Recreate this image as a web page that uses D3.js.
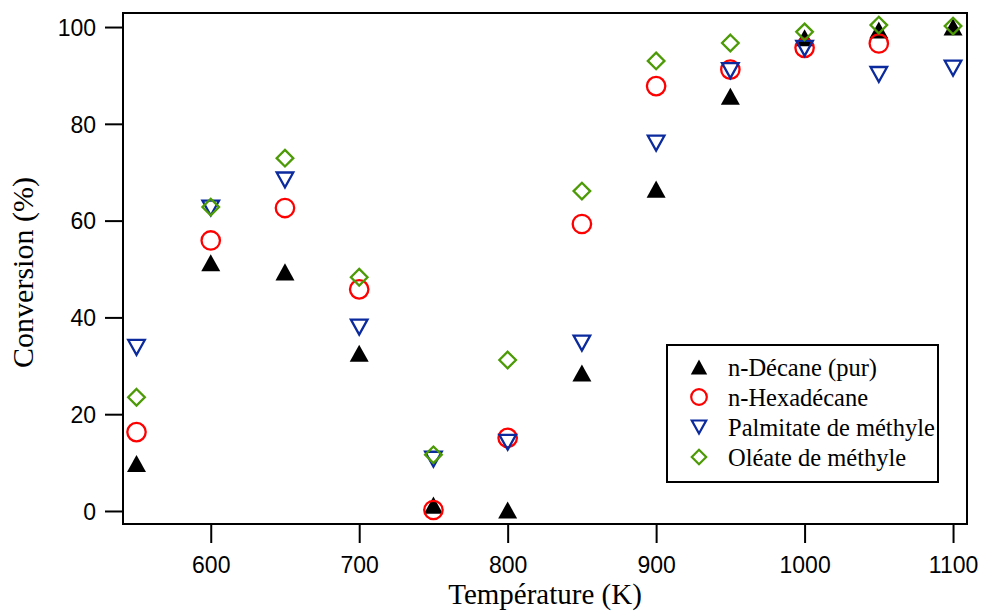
<!DOCTYPE html>
<html>
<head>
<meta charset="utf-8">
<script src="https://cdn.jsdelivr.net/npm/d3@7"></script>
<style>
  body { margin: 0; background: #fff; }
  svg { display: block; }
</style>
</head>
<body>
<svg id="chart" width="983" height="612"></svg>
<script>
// ---- data ----
const temperatures = [550, 600, 650, 700, 750, 800, 850, 900, 950, 1000, 1050, 1100];
const decane      = [9.8, 51.3, 49.4, 32.6, 1.2, 0.2, 28.5, 66.5, 85.7, 97.8, 99.4, 100.0];
const hexadecane  = [16.3, 55.9, 62.6, 45.8, 0.2, 15.1, 59.3, 87.8, 91.2, 95.7, 96.6, null];
const palmitate   = [33.8, 62.6, 68.4, 38.0, 10.7, 14.2, 34.7, 76.0, 91.0, 95.6, 90.2, 91.5];
const oleate      = [23.5, 62.8, 72.9, 48.3, 11.6, 31.2, 66.1, 93.0, 96.7, 99.0, 100.4, 100.2];
const seriesNames = ["n-Décane (pur)", "n-Hexadécane", "Palmitate de méthyle", "Oléate de méthyle"];
const xTicks = [600, 700, 800, 900, 1000, 1100];
const yTicks = [0, 20, 40, 60, 80, 100];

const series = [
  { name: seriesNames[0], values: decane,     shape: "triUp",   color: "#000000", fill: true },
  { name: seriesNames[1], values: hexadecane, shape: "circle",  color: "#ff0000", fill: false },
  { name: seriesNames[2], values: palmitate,  shape: "triDown", color: "#0a2a9e", fill: false },
  { name: seriesNames[3], values: oleate,     shape: "diamond", color: "#4c9a06", fill: false }
];

// ---- layout ----
const margin = { left: 123, top: 13, right: 983 - 967, bottom: 612 - 524 };
const W = 983 - margin.left - margin.right;
const H = 612 - margin.top - margin.bottom;

const svg = d3.select("#chart");
const g = svg.append("g").attr("transform", `translate(${margin.left},${margin.top})`);

const x = d3.scaleLinear().domain([540.9, 1109.4]).range([0, W]);
const y = d3.scaleLinear().domain([-2.69, 102.9]).range([H, 0]);

// marker paths centered at bbox center, s = half size
function shapePath(shape, s) {
  switch (shape) {
    case "triUp":   return `M0,${-s*0.9}L${s},${s*0.9}L${-s},${s*0.9}Z`;
    case "triDown": return `M${-s},${-s*0.9}L${s},${-s*0.9}L0,${s*0.9}Z`;
    case "diamond": return `M0,${-s}L${s},0L0,${s}L${-s},0Z`;
    case "circle":  { const p = d3.path(); p.arc(0, 0, s, 0, 2*Math.PI); p.closePath(); return p.toString(); }
  }
}
const mainSize = { triUp: 9.5, triDown: 8.3, diamond: 8.3, circle: 9.2 };
const legSize  = { triUp: 8.2, triDown: 7.2, diamond: 7.2, circle: 7.8 };

// ---- frame ----
g.append("rect").attr("x", 0).attr("y", 0).attr("width", W).attr("height", H)
  .attr("fill", "none").attr("stroke", "#000").attr("stroke-width", 2);

// ---- axes ----
const xAxis = g.append("g").attr("transform", `translate(0,${H})`)
  .call(d3.axisBottom(x).tickValues(xTicks).tickSize(19).tickPadding(14).tickFormat(d3.format("d")));
const yAxis = g.append("g")
  .call(d3.axisLeft(y).tickValues(yTicks).tickSize(18).tickPadding(9).tickFormat(d3.format("d")));
[xAxis, yAxis].forEach(a => {
  a.select(".domain").remove();
  a.selectAll(".tick line").attr("stroke", "#000").attr("stroke-width", 2);
  a.selectAll(".tick text").attr("fill", "#000")
    .style("font-family", "'Liberation Sans', Arial, Helvetica, sans-serif")
    .style("font-size", "23px");
});
yAxis.selectAll(".tick text").attr("dy", "0.36em");

// ---- axis titles ----
svg.append("text")
  .attr("x", margin.left + W / 2).attr("y", 604)
  .attr("text-anchor", "middle")
  .style("font-family", "'Liberation Serif', 'Times New Roman', serif")
  .style("font-size", "29px")
  .text("Température (K)");
svg.append("text")
  .attr("transform", `translate(33,${margin.top + H / 2 + 4}) rotate(-90)`)
  .attr("text-anchor", "middle")
  .style("font-family", "'Liberation Serif', 'Times New Roman', serif")
  .style("font-size", "30px")
  .text("Conversion (%)");

// ---- points ----
series.forEach(s => {
  g.append("g").selectAll("path")
    .data(temperatures.map((t, i) => ({ t, v: s.values[i] })).filter(d => d.v != null))
    .join("path")
    .attr("d", shapePath(s.shape, mainSize[s.shape]))
    .attr("transform", d => `translate(${x(d.t)},${y(d.v)})`)
    .attr("fill", s.fill ? s.color : "none")
    .attr("stroke", s.color)
    .attr("stroke-width", s.fill ? 0 : 2.3);
});

// ---- legend ----
const leg = svg.append("g").attr("transform", "translate(667,345)");
leg.append("rect").attr("x", 0).attr("y", 0).attr("width", 271).attr("height", 137)
  .attr("fill", "#fff").attr("stroke", "#000").attr("stroke-width", 2);
series.forEach((s, i) => {
  const cy = 22 + i * 30;
  leg.append("path")
    .attr("d", shapePath(s.shape, legSize[s.shape]))
    .attr("transform", `translate(32,${cy})`)
    .attr("fill", s.fill ? s.color : "none")
    .attr("stroke", s.color)
    .attr("stroke-width", s.fill ? 0 : 2.2);
  leg.append("text")
    .attr("x", 61).attr("y", cy).attr("dy", "0.35em")
    .style("font-family", "'Liberation Serif', 'Times New Roman', serif")
    .style("font-size", "24.5px")
    .text(s.name);
});
</script>
</body>
</html>
